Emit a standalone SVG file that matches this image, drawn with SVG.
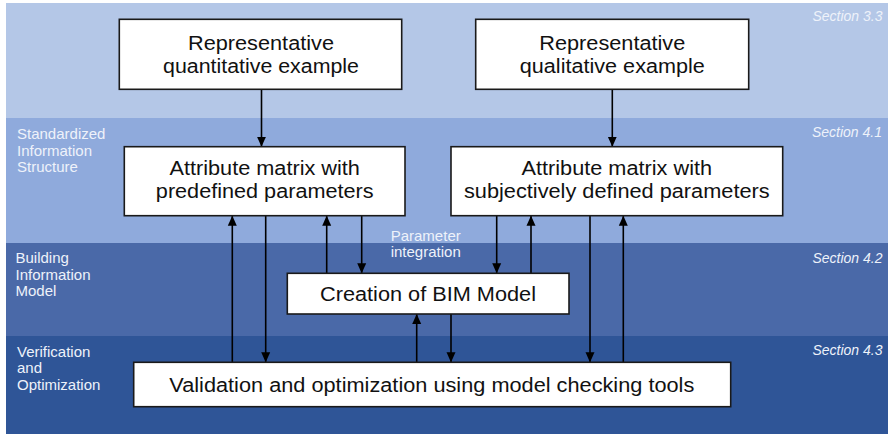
<svg xmlns="http://www.w3.org/2000/svg" width="890" height="434" viewBox="0 0 890 434">
<style>
.band-label{font-family:"Liberation Sans",Arial,sans-serif;font-size:15px;fill:#eef2fa}
.sec{font-family:"Liberation Sans",Arial,sans-serif;font-size:14px;font-style:italic;fill:#eef2fa;text-anchor:end}
.box{fill:#ffffff;stroke:#1a1a1a;stroke-width:1.6}
.t{font-family:"Liberation Sans",Arial,sans-serif;font-size:20px;fill:#111;text-anchor:middle}
.c{stroke:#000;stroke-width:1.6;fill:none;marker-end:url(#ah)}
</style>
<defs>
<marker id="ah" markerUnits="userSpaceOnUse" markerWidth="10" markerHeight="10" viewBox="0 0 10 10" refX="10" refY="5" orient="auto">
<path d="M0,0.5 L10,5 L0,9.5 z" fill="#000"/>
</marker>
</defs>
<rect x="0" y="0" width="890" height="434" fill="#ffffff"/>
<g id="bands">
<rect x="6" y="3" width="882" height="115" fill="#b4c7e7"/>
<rect x="6" y="118" width="882" height="125" fill="#8faadc"/>
<rect x="6" y="243" width="882" height="93" fill="#4a69a8"/>
<rect x="6" y="336" width="882" height="98" fill="#2f5597"/>
<text class="band-label" x="17" y="139">Standardized</text>
<text class="band-label" x="17" y="155.7">Information</text>
<text class="band-label" x="17" y="172.3">Structure</text>
<text class="band-label" x="15.5" y="263">Building</text>
<text class="band-label" x="15.5" y="279.7">Information</text>
<text class="band-label" x="15.5" y="296.4">Model</text>
<text class="band-label" x="17" y="356.7">Verification</text>
<text class="band-label" x="17" y="373.4">and</text>
<text class="band-label" x="17" y="390.1">Optimization</text>
<text class="sec" x="882.5" y="20.7">Section 3.3</text>
<text class="sec" x="882" y="136.7">Section 4.1</text>
<text class="sec" x="882.5" y="263.3">Section 4.2</text>
<text class="sec" x="882.5" y="355">Section 4.3</text>
</g>
<g id="connectors">
<line class="c" x1="261.5" y1="89.3" x2="261.5" y2="146.7"/>
<line class="c" x1="612.3" y1="89.3" x2="612.3" y2="146.7"/>
<line class="c" x1="232.3" y1="362.3" x2="232.3" y2="215.7"/>
<line class="c" x1="265.7" y1="215.7" x2="265.7" y2="362.3"/>
<line class="c" x1="326.7" y1="273.3" x2="326.7" y2="215.7"/>
<line class="c" x1="361.7" y1="215.7" x2="361.7" y2="273.3"/>
<line class="c" x1="416.7" y1="362.3" x2="416.7" y2="314"/>
<line class="c" x1="451" y1="314" x2="451" y2="362.3"/>
<line class="c" x1="496.7" y1="215.7" x2="496.7" y2="273.3"/>
<line class="c" x1="531" y1="273.3" x2="531" y2="215.7"/>
<line class="c" x1="590" y1="215.7" x2="590" y2="362.3"/>
<line class="c" x1="623.3" y1="362.3" x2="623.3" y2="215.7"/>
<text class="band-label" x="390.7" y="240.7">Parameter</text>
<text class="band-label" x="390.7" y="257.4">integration</text>
</g>
<g id="n1">
<rect class="box" x="119.3" y="19.3" width="282.4" height="70"/>
<text class="t" x="261" y="50" textLength="146" lengthAdjust="spacingAndGlyphs">Representative</text>
<text class="t" x="261" y="73.3" textLength="196" lengthAdjust="spacingAndGlyphs">quantitative example</text>
</g>
<g id="n2">
<rect class="box" x="475.7" y="19.3" width="273" height="70"/>
<text class="t" x="612.3" y="50" textLength="146" lengthAdjust="spacingAndGlyphs">Representative</text>
<text class="t" x="612.3" y="73.3" textLength="185" lengthAdjust="spacingAndGlyphs">qualitative example</text>
</g>
<g id="n3">
<rect class="box" x="124.3" y="146.7" width="280.7" height="69"/>
<text class="t" x="264.7" y="175" textLength="190.5" lengthAdjust="spacingAndGlyphs">Attribute matrix with</text>
<text class="t" x="264.7" y="198.3" textLength="217.7" lengthAdjust="spacingAndGlyphs">predefined parameters</text>
</g>
<g id="n4">
<rect class="box" x="451" y="146.7" width="331.7" height="69"/>
<text class="t" x="616.8" y="175" textLength="190.5" lengthAdjust="spacingAndGlyphs">Attribute matrix with</text>
<text class="t" x="616.8" y="198.3" textLength="305.7" lengthAdjust="spacingAndGlyphs">subjectively defined parameters</text>
</g>
<g id="n5">
<rect class="box" x="287.3" y="273.3" width="281.7" height="40.7"/>
<text class="t" x="428" y="300.5" textLength="216" lengthAdjust="spacingAndGlyphs">Creation of BIM Model</text>
</g>
<g id="n6">
<rect class="box" x="133.7" y="362.3" width="597" height="44.4"/>
<text class="t" x="431.8" y="391.7" textLength="525" lengthAdjust="spacingAndGlyphs">Validation and optimization using model checking tools</text>
</g>
</svg>
